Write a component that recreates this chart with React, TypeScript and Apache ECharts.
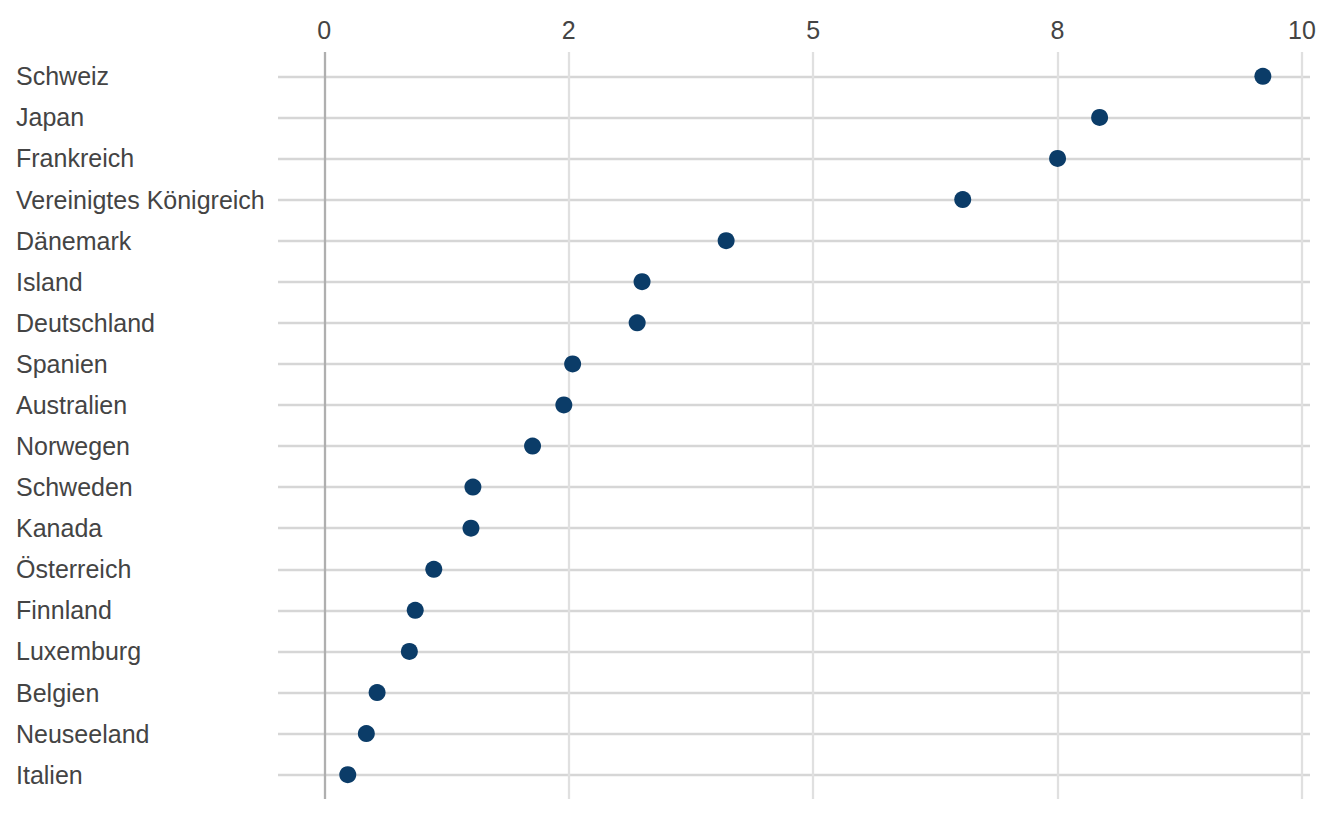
import React, { useEffect, useRef } from "react";
import * as echarts from "echarts";

const countries = [
  "Schweiz",
  "Japan",
  "Frankreich",
  "Vereinigtes Königreich",
  "Dänemark",
  "Island",
  "Deutschland",
  "Spanien",
  "Australien",
  "Norwegen",
  "Schweden",
  "Kanada",
  "Österreich",
  "Finnland",
  "Luxemburg",
  "Belgien",
  "Neuseeland",
  "Italien",
];

const values = [
  9.6, 7.93, 7.5, 6.53, 4.11, 3.25, 3.2, 2.54, 2.45, 2.13, 1.52, 1.5, 1.12,
  0.93, 0.87, 0.54, 0.43, 0.24,
];

const tickValues = [0, 2.5, 5, 7.5, 10];
const tickLabels = ["0", "2", "5", "8", "10"];

const FONT = "'Liberation Sans', Arial, Helvetica, sans-serif";
const TEXT_COLOR = "#444444";

export default function App() {
  const ref = useRef<HTMLDivElement>(null);

  useEffect(() => {
    if (!ref.current) return;
    const chart = echarts.init(ref.current, null, { renderer: "svg" });
    const xMin = -0.4736;
    const xMax = 10.082;
    chart.setOption({
      animation: false,
      backgroundColor: "#ffffff",
      grid: [
        { left: 278, right: 15, top: 52, bottom: 16 },
        { left: 278, right: 15, top: 76.3, bottom: 40.3 },
      ],
      xAxis: [
        {
          type: "value",
          gridIndex: 0,
          position: "top",
          min: xMin,
          max: xMax,
          z: 2,
          axisLine: { show: false },
          axisTick: { show: false, customValues: tickValues },
          axisLabel: {
            customValues: tickValues,
            formatter: (v: number) => {
              const i = tickValues.indexOf(v);
              return i >= 0 ? tickLabels[i] : "";
            },
            fontSize: 25,
            fontFamily: FONT,
            color: TEXT_COLOR,
            margin: 10,
          },
          splitLine: {
            show: true,
            lineStyle: {
              color: ["#afafaf", "#e0e0e0", "#e0e0e0", "#e0e0e0", "#e0e0e0"],
              width: 2.3,
            },
          },
        },
        {
          type: "value",
          gridIndex: 1,
          min: xMin,
          max: xMax,
          show: false,
        },
      ],
      yAxis: [
        { type: "value", gridIndex: 0, min: 0, max: 1, show: false },
        {
          type: "category",
          gridIndex: 1,
          data: countries,
          inverse: true,
          boundaryGap: false,
          z: 1,
          axisLine: { show: false },
          axisTick: { show: false },
          axisLabel: {
            interval: 0,
            align: "left",
            margin: 262,
            fontSize: 25,
            fontFamily: FONT,
            color: TEXT_COLOR,
          },
          splitLine: {
            show: true,
            interval: 0,
            lineStyle: { color: "#d6d6d6", width: 2.3 },
          },
        },
      ],
      series: [
        {
          type: "scatter",
          xAxisIndex: 1,
          yAxisIndex: 1,
          data: values.map((v, i) => [v, countries[i]]),
          symbol: "circle",
          symbolSize: 17,
          itemStyle: { color: "#0b3c68", opacity: 1 },
          z: 3,
        },
      ],
    });
    return () => chart.dispose();
  }, []);

  return (
    <div
      ref={ref}
      style={{ position: "absolute", left: 0, top: 0, width: 1325, height: 815 }}
    />
  );
}
